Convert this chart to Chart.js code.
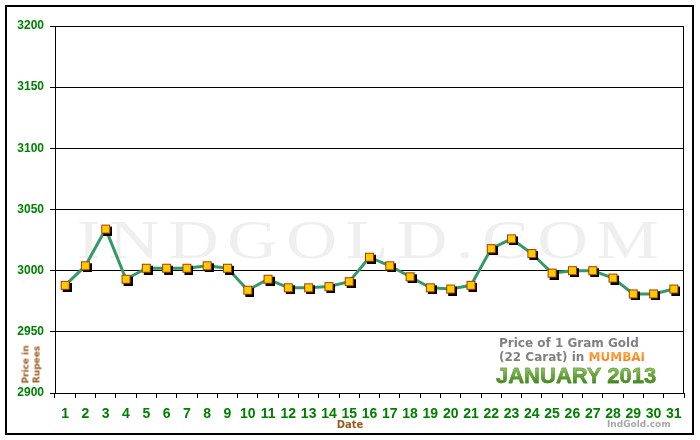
<!DOCTYPE html>
<html>
<head>
<meta charset="utf-8">
<script src="https://cdn.jsdelivr.net/npm/chart.js@4/dist/chart.umd.min.js"></script>
<style>
  html, body { margin: 0; padding: 0; background: #ffffff; }
  #wrap { position: relative; width: 700px; height: 440px; overflow: hidden; background: #ffffff; }
  #frame { position: absolute; left: 5px; top: 5px; width: 685px; height: 426px; border: 2px solid #000; }
  #watermark { position: absolute; left: 77px; top: 213px; font-family: 'Liberation Serif', 'DejaVu Serif', serif;
    font-size: 54px; line-height: 54px; color: #efefef; text-transform: uppercase; letter-spacing: 6.5px;
    transform-origin: 0 0; transform: scaleX(1.3); white-space: nowrap; }
  #chart { position: absolute; left: 0; top: 0; }
  .txt { position: absolute; white-space: nowrap; }
  #l1, #l2 { left: 499px; font-family: 'DejaVu Sans', sans-serif; font-weight: bold; font-size: 12px; line-height: 13px; color: #808080; }
  #l1 { top: 337px; }
  #l2 { top: 351px; }
  #city { color: #ff7f1a; background: linear-gradient(#ffb050, #ff6a00); -webkit-background-clip: text; background-clip: text; -webkit-text-fill-color: transparent; }
  #month { left: 496px; top: 365px; font-family: 'Liberation Sans', Arial, sans-serif; font-weight: bold; font-size: 22px; line-height: 22px;
    background: linear-gradient(#a6d27a 0%, #6aa83a 45%, #2f7a14 100%); -webkit-background-clip: text; background-clip: text; -webkit-text-fill-color: transparent; color: #5a9a30;
    -webkit-text-stroke: 0.4px #4a8a28; }
  #site { left: 607px; top: 420px; font-family: 'DejaVu Sans', sans-serif; font-weight: bold; font-size: 9px; line-height: 9px; color: #a6a6a6; }
  #xtitle { left: 350px; top: 420px; transform: translateX(-50%); font-family: 'DejaVu Sans', sans-serif; font-weight: bold; font-size: 10px; line-height: 10px; color: #9b5a1c; }
  #ytitle { left: 31px; top: 364.5px; width: 60px; height: 21px; margin-left: -30px; margin-top: -10.5px; transform: rotate(-90deg);
    text-align: center; font-family: 'DejaVu Sans', sans-serif; font-weight: bold; font-size: 9px; line-height: 10.5px; color: #9b5a1c; }
</style>
</head>
<body>
<div id="wrap">
  <div id="frame"></div>
  <div id="watermark">IndGold.com</div>
  <canvas id="chart" width="700" height="440"></canvas>
  <div class="txt" id="l1">Price of 1 Gram Gold</div>
  <div class="txt" id="l2">(22 Carat) in <span id="city">MUMBAI</span></div>
  <div class="txt" id="month">JANUARY 2013</div>
  <div class="txt" id="site">IndGold.com</div>
  <div class="txt" id="xtitle">Date</div>
  <div class="txt" id="ytitle">Price in<br>Rupees</div>
</div>
<script>
// ---- data ----
const dates = ['1','2','3','4','5','6','7','8','9','10','11','12','13','14','15','16','17','18','19','20','21','22','23','24','25','26','27','28','29','30','31'];
const prices = [2988, 3004, 3034, 2993, 3002, 3002, 3002, 3004, 3002, 2984, 2993, 2986, 2986, 2987, 2991, 3011, 3004, 2995, 2986, 2985, 2988, 3018, 3026, 3014, 2998, 3000, 3000, 2994, 2981, 2981, 2985];
const yTickValues = [2900, 2950, 3000, 3050, 3100, 3150, 3200];

// ---- marker with drop shadow ----
function makeMarker() {
  const s = 9, d = 2;
  const c = document.createElement('canvas');
  c.width = s + 2 * d; c.height = s + 2 * d;
  const g = c.getContext('2d');
  g.fillStyle = '#000000';
  g.fillRect(2 * d, 2 * d, s, s);
  g.fillStyle = '#a83a00';
  g.fillRect(d, d, s, s);
  g.fillStyle = '#ffcc00';
  g.fillRect(d + 1, d + 1, s - 2, s - 2);
  return c;
}
const marker = makeMarker();

const frameBorder = {
  id: 'frameBorder',
  beforeDatasetsDraw(chart) {
    const a = chart.chartArea, ctx = chart.ctx;
    ctx.save();
    ctx.strokeStyle = '#000';
    ctx.lineWidth = 1;
    const x = Math.round(a.right) - 0.5;
    ctx.beginPath();
    ctx.moveTo(x, Math.round(a.top));
    ctx.lineTo(x, Math.round(a.bottom));
    ctx.stroke();
    ctx.restore();
  }
};

new Chart(document.getElementById('chart'), {
  type: 'line',
  data: {
    labels: dates,
    datasets: [{
      data: prices,
      borderColor: '#339966',
      borderWidth: 3,
      tension: 0,
      fill: false,
      pointStyle: marker,
      pointRadius: 5,
      pointHoverRadius: 5
    }]
  },
  options: {
    responsive: false,
    devicePixelRatio: 1,
    animation: false,
    events: [],
    layout: { padding: { top: 26, right: 16, left: 0, bottom: 0 } },
    plugins: { legend: { display: false }, tooltip: { enabled: false } },
    scales: {
      x: {
        type: 'category',
        offset: true,
        afterFit(scale) { scale.height = 47; },
        grid: { offset: true, drawOnChartArea: false, color: '#000', tickLength: 5, lineWidth: 1 },
        border: { color: '#000', width: 1 },
        ticks: {
          autoSkip: false, maxRotation: 0, padding: 8,
          color: '#008000',
          font: { family: "'Liberation Sans Narrow', 'Arial Narrow', 'Liberation Sans', sans-serif", size: 14, weight: 'bold' }
        }
      },
      y: {
        min: yTickValues[0],
        max: yTickValues[yTickValues.length - 1],
        afterFit(scale) { scale.width = 55; },
        afterBuildTicks(scale) { scale.ticks = yTickValues.map(v => ({ value: v })); },
        grid: { color: '#000', tickLength: 5, lineWidth: 1 },
        border: { color: '#000', width: 1 },
        ticks: {
          padding: 6,
          color: '#008000',
          callback: (v) => String(v),
          font: { family: "'Liberation Sans', Arial, sans-serif", size: 12, weight: 'bold' }
        }
      }
    }
  },
  plugins: [frameBorder]
});
</script>
</body>
</html>
